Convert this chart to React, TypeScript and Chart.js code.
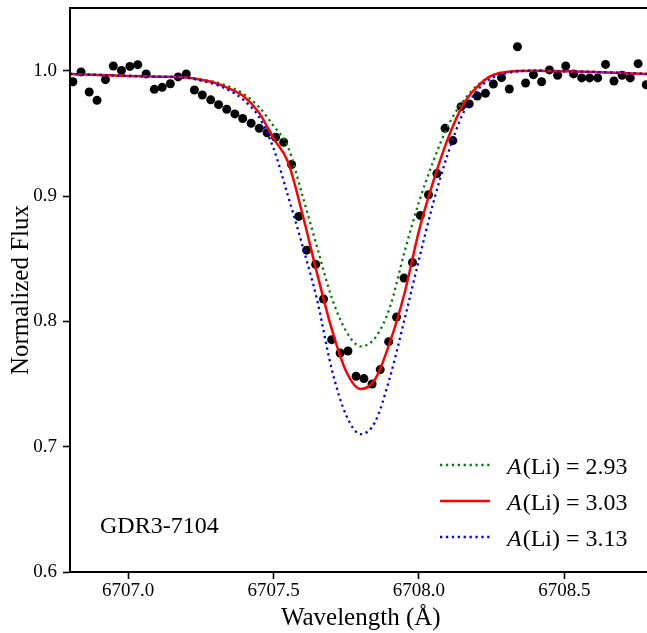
import React, { useEffect, useRef } from "react";
import { Chart, registerables } from "chart.js";

Chart.register(...registerables);

// ---------- data ----------
const obsWavelength = [
  6706.810, 6706.838, 6706.866, 6706.893, 6706.922, 6706.949, 6706.977, 6707.006,
  6707.033, 6707.062, 6707.090, 6707.117, 6707.145, 6707.172, 6707.200, 6707.228,
  6707.255, 6707.284, 6707.311, 6707.339, 6707.367, 6707.394, 6707.423, 6707.451,
  6707.478, 6707.507, 6707.535, 6707.562, 6707.587, 6707.614, 6707.645, 6707.672,
  6707.700, 6707.729, 6707.756, 6707.784, 6707.811, 6707.839, 6707.867, 6707.896,
  6707.923, 6707.949, 6707.978, 6708.005, 6708.033, 6708.062, 6708.090, 6708.117,
  6708.145, 6708.173, 6708.201, 6708.229, 6708.256, 6708.284, 6708.311, 6708.339,
  6708.367, 6708.394, 6708.422, 6708.449, 6708.477, 6708.505, 6708.532, 6708.560,
  6708.587, 6708.615, 6708.642, 6708.671, 6708.699, 6708.727, 6708.754, 6708.782,
];
const obsFlux = [
  0.9912, 0.9990, 0.9830, 0.9763, 0.9928, 1.0037, 1.0002, 1.0034,
  1.0048, 0.9974, 0.9851, 0.9867, 0.9896, 0.9950, 0.9974, 0.9846,
  0.9806, 0.9767, 0.9729, 0.9692, 0.9655, 0.9618, 0.9580, 0.9540,
  0.9504, 0.9469, 0.9429, 0.9251, 0.8837, 0.8568, 0.8454, 0.8178,
  0.7854, 0.7747, 0.7763, 0.7562, 0.7543, 0.7500, 0.7615, 0.7838,
  0.8034, 0.8345, 0.8470, 0.8845, 0.9010, 0.9179, 0.9540, 0.9442,
  0.9713, 0.9735, 0.9798, 0.9819, 0.9894, 0.9944, 0.9854, 1.0191,
  0.9902, 0.9968, 0.9912, 1.0006, 0.9963, 1.0037, 0.9974, 0.9942,
  0.9942, 0.9942, 1.0050, 0.9918, 0.9963, 0.9942, 1.0056, 0.9888,
];

const modelWavelength = [
  6706.80, 6706.90, 6707.00, 6707.10, 6707.20, 6707.25, 6707.30, 6707.35,
  6707.40, 6707.45, 6707.50, 6707.55, 6707.60, 6707.65, 6707.70, 6707.75,
  6707.80, 6707.85, 6707.90, 6707.95, 6708.00, 6708.05, 6708.10, 6708.15,
  6708.20, 6708.25, 6708.30, 6708.40, 6708.50, 6708.60, 6708.70, 6708.80,
];
// A(Li) = 2.93
const fluxLow = [
  0.9974, 0.9966, 0.9958, 0.9952, 0.9946, 0.9930, 0.9908, 0.9870,
  0.9810, 0.9710, 0.9560, 0.9390, 0.9000, 0.8590, 0.8190, 0.7920,
  0.7800, 0.7870, 0.8110, 0.8550, 0.8950, 0.9280, 0.9560, 0.9750,
  0.9880, 0.9960, 0.9990, 1.0000, 0.9995, 0.9990, 0.9982, 0.9972,
];
// A(Li) = 3.03
const fluxMid = [
  0.9974, 0.9966, 0.9958, 0.9952, 0.9945, 0.9928, 0.9902, 0.9855,
  0.9790, 0.9665, 0.9460, 0.9270, 0.8850, 0.8380, 0.7940, 0.7600,
  0.7460, 0.7540, 0.7830, 0.8220, 0.8720, 0.9120, 0.9460, 0.9720,
  0.9870, 0.9960, 0.9990, 1.0000, 0.9995, 0.9990, 0.9982, 0.9972,
];
// A(Li) = 3.13
const fluxHigh = [
  0.9974, 0.9966, 0.9958, 0.9952, 0.9944, 0.9920, 0.9890, 0.9840,
  0.9760, 0.9630, 0.9380, 0.9000, 0.8600, 0.8170, 0.7620, 0.7250,
  0.7100, 0.7200, 0.7550, 0.8010, 0.8490, 0.8950, 0.9340, 0.9650,
  0.9840, 0.9940, 0.9980, 1.0000, 0.9995, 0.9990, 0.9982, 0.9972,
];

const abundanceLabels = ["2.93", "3.03", "3.13"];
const xTicks = [6707.0, 6707.5, 6708.0, 6708.5];
const yTicks = [0.6, 0.7, 0.8, 0.9, 1.0];
const starName = "GDR3-7104";
const xTitle = "Wavelength (Å)";
const yTitle = "Normalized Flux";

const FONT = '"Liberation Serif", "Times New Roman", serif';

const overlayPlugin = {
  id: "overlay",
  afterDatasetsDraw(chart: any) {
    const { ctx, chartArea: a } = chart;
    ctx.save();
    ctx.strokeStyle = "#000";
    ctx.lineWidth = 2;
    ctx.strokeRect(a.left, a.top, a.right - a.left, a.bottom - a.top);
    ctx.restore();
  },
  afterDraw(chart: any) {
    const { ctx, chartArea: a } = chart;
    ctx.save();
    // star name
    ctx.fillStyle = "#000";
    ctx.font = `24px ${FONT}`;
    ctx.textBaseline = "alphabetic";
    ctx.textAlign = "left";
    ctx.fillText(starName, a.left + 30, a.bottom - 39);

    // legend
    const items = chart.data.datasets.filter((d: any) => d.abundance);
    items.forEach((d: any, i: number) => {
      const y = a.bottom - 107 + i * 36;
      ctx.strokeStyle = d.borderColor;
      ctx.lineWidth = d.borderWidth;
      ctx.setLineDash(d.borderDash || []);
      ctx.beginPath();
      ctx.moveTo(a.left + 370, y);
      ctx.lineTo(a.left + 420, y);
      ctx.stroke();
      ctx.setLineDash([]);
      const tx = a.left + 437;
      ctx.fillStyle = "#000";
      ctx.font = `italic 24px ${FONT}`;
      ctx.fillText("A", tx, y + 9);
      const w = ctx.measureText("A").width;
      ctx.font = `24px ${FONT}`;
      ctx.fillText("(Li) = " + d.abundance, tx + w + 1, y + 9);
    });
    ctx.restore();
  },
};

export default function App() {
  const ref = useRef<HTMLCanvasElement | null>(null);

  useEffect(() => {
    const canvas = ref.current;
    if (!canvas) return;
    const toPts = (ys: number[]) => modelWavelength.map((x, i) => ({ x, y: ys[i] }));
    const lineStyle = {
      type: "line" as const,
      pointRadius: 0,
      fill: false,
      showLine: true,
      cubicInterpolationMode: "monotone" as const,
    };
    const chart = new Chart(canvas, {
      type: "scatter",
      data: {
        datasets: [
          {
            ...lineStyle,
            label: "A(Li) = " + abundanceLabels[0],
            abundance: abundanceLabels[0],
            data: toPts(fluxLow),
            borderColor: "#008000",
            borderWidth: 2.3,
            borderDash: [2.3, 3.6],
            order: 3,
          } as any,
          {
            ...lineStyle,
            label: "A(Li) = " + abundanceLabels[1],
            abundance: abundanceLabels[1],
            data: toPts(fluxMid),
            borderColor: "#ff0000",
            borderWidth: 2.5,
            order: 2,
          } as any,
          {
            ...lineStyle,
            label: "A(Li) = " + abundanceLabels[2],
            abundance: abundanceLabels[2],
            data: toPts(fluxHigh),
            borderColor: "#0000ff",
            borderWidth: 2.3,
            borderDash: [2.3, 3.6],
            order: 1,
          } as any,
          {
            type: "scatter",
            label: "data",
            data: obsWavelength.map((x, i) => ({ x, y: obsFlux[i] })),
            backgroundColor: "#000",
            borderWidth: 0,
            pointRadius: 4.5,
            pointHoverRadius: 4.5,
            order: 4,
          } as any,
        ],
      },
      options: {
        animation: false,
        responsive: false,
        devicePixelRatio: 1,
        layout: { padding: { top: 8, right: 2, left: 0, bottom: 0 } },
        plugins: { legend: { display: false }, tooltip: { enabled: false } },
        scales: {
          x: {
            type: "linear",
            min: 6706.8,
            max: 6708.8,
            afterBuildTicks: (s: any) => {
              s.ticks = xTicks.map((v) => ({ value: v }));
            },
            afterFit: (s: any) => {
              s.height = 61;
              s.paddingLeft = 0;
              s.paddingRight = 0;
            },
            ticks: {
              callback: (v: any) => Number(v).toFixed(1),
              color: "#000",
              font: { family: FONT, size: 19 },
              padding: 1,
              maxRotation: 0,
              autoSkip: false,
            },
            grid: {
              display: true,
              drawOnChartArea: false,
              drawTicks: true,
              tickLength: 7,
              tickWidth: 1.6,
              tickColor: "#000",
            },
            border: { display: true, color: "#000", width: 2 },
            title: {
              display: true,
              text: xTitle,
              color: "#000",
              font: { family: FONT, size: 25 },
              padding: { top: 0, bottom: 0 },
            },
          },
          y: {
            type: "linear",
            min: 0.6,
            max: 1.05,
            afterBuildTicks: (s: any) => {
              s.ticks = yTicks.map((v) => ({ value: v }));
            },
            afterFit: (s: any) => {
              s.width = 70;
              s.paddingTop = 0;
              s.paddingBottom = 0;
            },
            ticks: {
              callback: (v: any) => Number(v).toFixed(1),
              color: "#000",
              font: { family: FONT, size: 19 },
              padding: 6,
            },
            grid: {
              display: true,
              drawOnChartArea: false,
              drawTicks: true,
              tickLength: 7,
              tickWidth: 1.6,
              tickColor: "#000",
            },
            border: { display: true, color: "#000", width: 2 },
            title: {
              display: true,
              text: yTitle,
              color: "#000",
              font: { family: FONT, size: 25 },
              padding: { top: 6, bottom: 0 },
            },
          },
        },
      } as any,
      plugins: [overlayPlugin],
    });
    return () => chart.destroy();
  }, []);

  return (
    <div
      style={{
        position: "absolute",
        left: 0,
        top: 0,
        width: 647,
        height: 633,
        overflow: "hidden",
        background: "#fff",
      }}
    >
      <canvas ref={ref} width={656} height={633} style={{ display: "block", width: 656, height: 633 }} />
    </div>
  );
}
